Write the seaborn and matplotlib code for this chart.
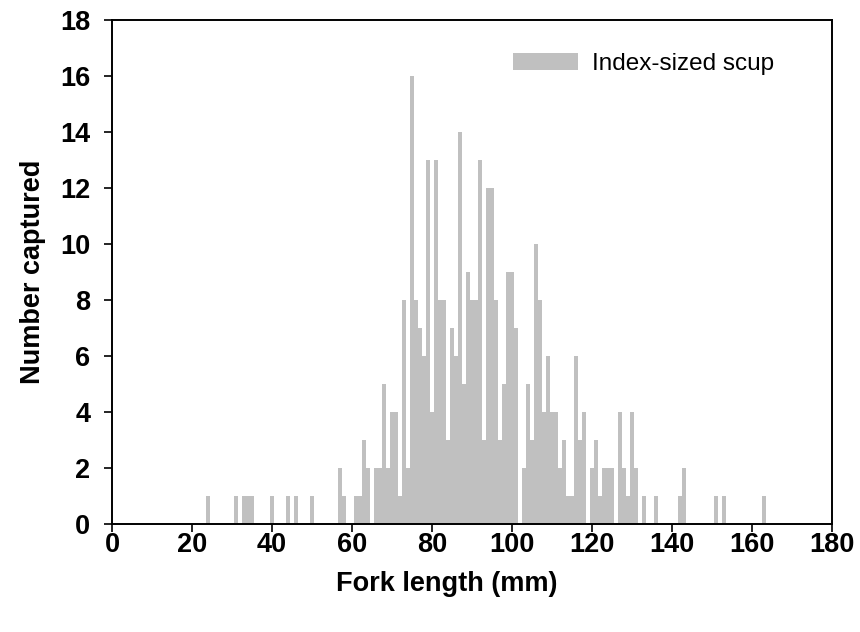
import matplotlib
matplotlib.use("Agg")
import pandas as pd
import seaborn as sns
from matplotlib import pyplot as plt
from matplotlib.patches import Patch

# fork length (mm) and number of index-sized scup captured at that length
fork_length = [24, 31, 33, 34, 35, 40, 44, 46, 50, 57, 58, 61, 62, 63, 64,
               66, 67, 68, 69, 70, 71, 72, 73, 74, 75, 76, 77, 78, 79, 80,
               81, 82, 83, 84, 85, 86, 87, 88, 89, 90, 91, 92, 93, 94, 95,
               96, 97, 98, 99, 100, 101, 103, 104, 105, 106, 107, 108, 109, 110, 111,
               112, 113, 114, 115, 116, 117, 118, 120, 121, 122, 123, 124, 125, 127, 128,
               129, 130, 131, 133, 136, 142, 143, 151, 153, 163]
n_captured = [1, 1, 1, 1, 1, 1, 1, 1, 1, 2, 1, 1, 1, 3, 2,
              2, 2, 5, 2, 4, 4, 1, 8, 2, 16, 8, 7, 6, 13, 4,
              13, 8, 8, 3, 7, 6, 14, 5, 9, 8, 8, 13, 3, 12, 12,
              8, 3, 5, 9, 9, 7, 2, 5, 3, 10, 8, 4, 6, 4, 4,
              2, 3, 1, 1, 6, 3, 4, 2, 3, 1, 2, 2, 2, 4, 2,
              1, 4, 2, 1, 1, 1, 2, 1, 1, 1]

x_ticks = list(range(0, 181, 20))
y_ticks = list(range(0, 19, 2))
bar_color = '#c0c0c0'

df = pd.DataFrame({'fork_length': fork_length, 'n': n_captured})

sns.set_style('ticks')
plt.rcParams['font.family'] = ['Liberation Sans', 'DejaVu Sans']
plt.rcParams.update({'text.color': 'black', 'axes.labelcolor': 'black',
                     'xtick.color': 'black', 'ytick.color': 'black'})

fig = plt.figure(figsize=(8.6, 6.32), dpi=100)
ax = fig.add_axes([112 / 860, 1 - 524 / 632, 720 / 860, 504 / 632])

sns.histplot(data=df, x='fork_length', weights='n', discrete=True, shrink=1,
             color=bar_color, alpha=1, linewidth=0, ax=ax)

ax.set_xlim(0, 180)
ax.set_ylim(0, 18)
ax.set_xticks(x_ticks)
ax.set_yticks(y_ticks)
ax.tick_params(direction='out', length=5.5, width=1.2, labelsize=19.5)
ax.tick_params(axis='x', pad=0)
ax.tick_params(axis='y', pad=10)
for lab in ax.get_xticklabels() + ax.get_yticklabels():
    lab.set_fontweight('bold')
for sp in ax.spines.values():
    sp.set_linewidth(1.4)
    sp.set_color('black')

ax.set_xlabel('Fork length (mm)', fontsize=19.5, fontweight='bold')
ax.set_ylabel('Number captured', fontsize=19.5, fontweight='bold', labelpad=10)
ax.xaxis.set_label_coords(0.465, -0.093)

handle = Patch(facecolor=bar_color, edgecolor='none')
ax.legend(handles=[handle], labels=['Index-sized scup'], loc='upper left',
          bbox_to_anchor=(0.557, 0.934), frameon=False, fontsize=17.5,
          handlelength=2.67, handleheight=0.7, handletextpad=0.58,
          borderpad=0, borderaxespad=0)

fig.savefig('out.png', dpi=100)
